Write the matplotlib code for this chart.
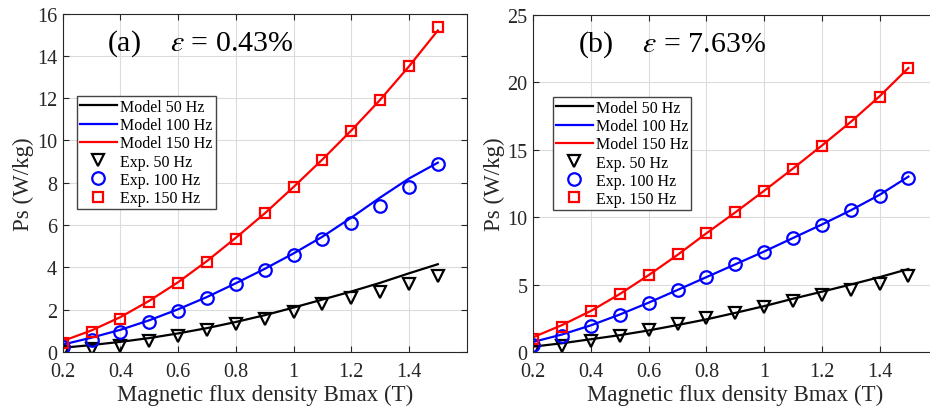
import numpy as np
import matplotlib
matplotlib.use("Agg")
import matplotlib.pyplot as plt
from matplotlib.ticker import FormatStrFormatter

plt.rcParams['font.family'] = ['Liberation Serif', 'DejaVu Serif']
plt.rcParams['mathtext.fontset'] = 'stix'

# Bmax values (T)
bmax = [0.2, 0.3, 0.4, 0.5, 0.6, 0.7, 0.8, 0.9, 1.0, 1.1, 1.2, 1.3, 1.4, 1.5]

# panel (a) - experiments
exp_a_50 = [0.0, 0.13, 0.28, 0.52, 0.76, 1.03, 1.31, 1.58, 1.89, 2.29, 2.57, 2.85, 3.2, 3.6]
exp_a_100 = [0.25, 0.55, 0.95, 1.42, 1.94, 2.57, 3.2, 3.88, 4.59, 5.33, 6.12, 6.88, 7.82, 8.91]
exp_a_150 = [0.41, 0.95, 1.58, 2.37, 3.26, 4.27, 5.36, 6.55, 7.78, 9.08, 10.46, 11.92, 13.53, 15.38]
# panel (a) - model
mod_a_50 = [0.2, 0.33, 0.48, 0.66, 0.88, 1.13, 1.42, 1.74, 2.1, 2.48, 2.86, 3.27, 3.72, 4.15]
mod_a_100 = [0.35, 0.68, 1.05, 1.5, 2.02, 2.6, 3.25, 3.93, 4.66, 5.45, 6.35, 7.3, 8.2, 8.95]
mod_a_150 = [0.52, 1.02, 1.65, 2.42, 3.3, 4.3, 5.4, 6.55, 7.8, 9.1, 10.47, 11.92, 13.5, 15.2]

# panel (b) - experiments
exp_b_50 = [0.05, 0.42, 0.81, 1.18, 1.65, 2.1, 2.52, 2.91, 3.33, 3.78, 4.2, 4.6, 5.06, 5.6]
exp_b_100 = [0.49, 1.16, 1.9, 2.76, 3.65, 4.57, 5.55, 6.49, 7.45, 8.44, 9.38, 10.49, 11.57, 12.91]
exp_b_150 = [0.99, 1.85, 3.01, 4.32, 5.73, 7.23, 8.81, 10.37, 11.97, 13.57, 15.28, 17.03, 18.93, 21.05]
# panel (b) - model
mod_b_50 = [0.4, 0.65, 0.95, 1.25, 1.6, 2.0, 2.42, 2.9, 3.4, 3.95, 4.47, 5.0, 5.55, 6.15]
mod_b_100 = [0.75, 1.3, 1.98, 2.78, 3.66, 4.6, 5.55, 6.5, 7.45, 8.45, 9.45, 10.5, 11.65, 13.0]
mod_b_150 = [1.1, 2.0, 3.05, 4.3, 5.7, 7.2, 8.8, 10.35, 11.95, 13.6, 15.3, 17.05, 18.95, 21.05]

panels = [
    ("(a)    $\\varepsilon$ = 0.43%", 16, [0, 2, 4, 6, 8, 10, 12, 14, 16],
     (mod_a_50, mod_a_100, mod_a_150), (exp_a_50, exp_a_100, exp_a_150), 0.035),
    ("(b)    $\\varepsilon$ = 7.63%", 25, [0, 5, 10, 15, 20, 25],
     (mod_b_50, mod_b_100, mod_b_150), (exp_b_50, exp_b_100, exp_b_150), 0.048),
]

fig = plt.figure(figsize=(9.3, 4.14), dpi=100)
positions = [[0.0674, 0.1473, 0.4344, 0.8176], [0.5734, 0.1473, 0.4344, 0.8147]]

colors = ['black', 'blue', 'red']
freqs = ['50 Hz', '100 Hz', '150 Hz']
markers = ['v', 'o', 's']
msizes = [9, 9, 7.5]
txtc = '#262626'

for pos, (title, ymax, yticks, mods, exps, legx) in zip(positions, panels):
    ax = fig.add_axes(pos)
    for c, f, m in zip(colors, freqs, mods):
        ax.plot(bmax, m, color=c, lw=1.6, label='Model ' + f)
    for c, f, e, mk, ms in zip(colors, freqs, exps, markers, msizes):
        ax.plot(bmax, e, ls='none', marker=mk, ms=ms, mfc='none', mec=c,
                mew=1.6, label='Exp. ' + f)

    ax.set_xlim(0.2, 1.6)
    ax.set_ylim(0, ymax)
    ax.set_xticks([0.2, 0.4, 0.6, 0.8, 1.0, 1.2, 1.4])
    ax.set_yticks(yticks)
    ax.xaxis.set_major_formatter(FormatStrFormatter('%g'))
    ax.yaxis.set_major_formatter(FormatStrFormatter('%g'))
    ax.grid(True, color='#dcdcdc', lw=0.8)
    ax.set_axisbelow(True)
    ax.tick_params(direction='in', top=True, right=True, length=4,
                   labelsize=14.5, colors=txtc)
    ax.tick_params(axis='x', pad=7)
    ax.tick_params(axis='y', pad=4)
    for s in ax.spines.values():
        s.set_color(txtc)
        s.set_linewidth(0.8)

    ax.set_xlabel('Magnetic flux density Bmax (T)', fontsize=16.5, color=txtc, labelpad=2)
    ax.set_ylabel('Ps (W/kg)', fontsize=16.5, color=txtc, labelpad=2)
    ax.text(0.11, 0.915, title, transform=ax.transAxes, fontsize=21.5,
            va='center', ha='left', color='black')

    leg = ax.legend(loc='upper left', bbox_to_anchor=(legx, 0.757), fontsize=11.5,
                    frameon=True, fancybox=False, framealpha=1, edgecolor='#444444',
                    handlelength=2.3, handletextpad=0.2, labelspacing=0.14,
                    borderpad=0.2, borderaxespad=0)
    leg.get_frame().set_linewidth(1.0)

fig.savefig('out.png', dpi=100)
